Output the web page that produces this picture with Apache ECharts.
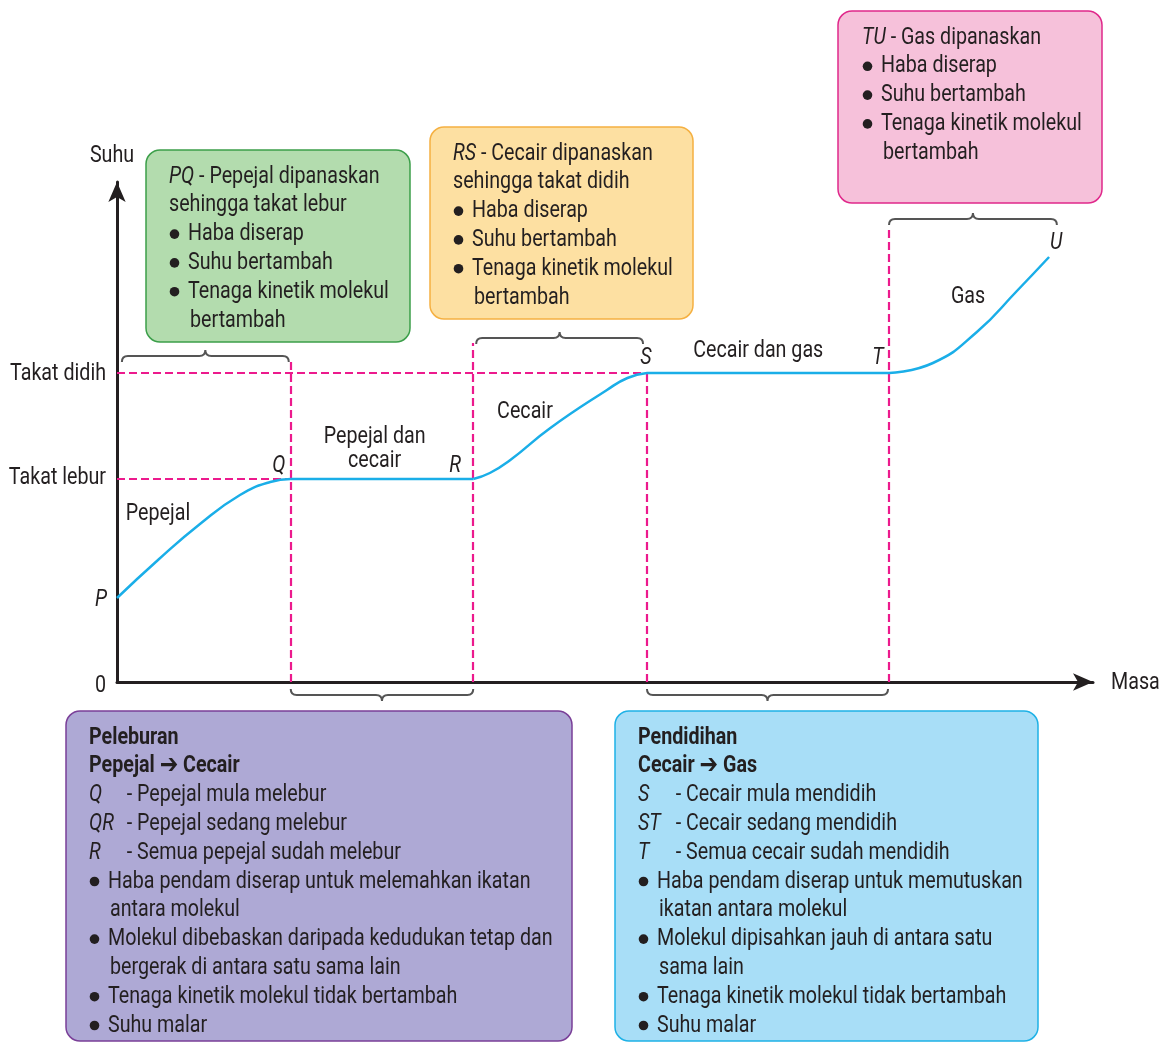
<!DOCTYPE html>
<html>
<head>
<meta charset="utf-8">
<script src="https://cdn.jsdelivr.net/npm/echarts@6/dist/echarts.min.js"></script>
<style>
html, body { margin: 0; padding: 0; background: #fff; }
#main { width: 1167px; height: 1042px; }
</style>
</head>
<body>
<div id="main"></div>
<script>
// lengkung pemanasan: masa (0-100) lawan suhu (0-100)
var masa = [0, 4.2, 8.5, 12.6, 15.7, 17.8, 36.5, 38.2, 40.3, 44.4, 50.2, 52.3, 54.3, 79.1, 83.6, 88.1, 92.2, 95.5];
var suhu = [16.8, 24.4, 31.6, 37.4, 40.0, 40.6, 40.6, 41.8, 44.4, 50.8, 58.4, 60.8, 61.8, 61.8, 63.8, 70.0, 78.2, 85.0];
// indeks titik P, Q, R, S, T, U dalam tatasusunan di atas
var titikIndeks = [0, 5, 6, 12, 13, 17];
var titikNama = ["P", "Q", "R", "S", "T", "U"];

var takatLebur = 40.6;
var takatDidih = 61.8;

var kawasanNama = ["Pepejal", "Pepejal dan\ncecair", "Cecair", "Cecair dan gas", "Gas"];
var kawasanMasa = [4.2, 26.4, 41.8, 65.7, 87.2];
var kawasanSuhu = [33.8, 46.8, 54.2, 66.4, 77.2];

var labelPaksiY = ["0", "Takat lebur", "Takat didih"];
var nilaiPaksiY = [0, 41.0, 61.8];

// kurungan: masa mula, masa akhir, suhu, arah (-1 hujung ke atas, 1 ke bawah)
var kurunganMula = [0.5, 36.8, 79.1, 17.8, 54.3];
var kurunganAkhir = [17.6, 53.9, 96.3, 36.5, 79.0];
var kurunganSuhu = [65.2, 68.8, 92.6, -2.6, -2.6];
var kurunganArah = [-1, -1, -1, 1, 1];

var F = "Roboto, 'Noto Sans', sans-serif";
var TXT = "#231f20";
var FS = 24;
var SX = 0.82; // huruf dimampatkan (condensed)

var chartDom = document.getElementById("main");
var myChart = echarts.init(chartDom);

var titikMasa = titikIndeks.map(function (i) { return masa[i]; });
var titikSuhu = titikIndeks.map(function (i) { return suhu[i]; });
var titikOffset = [[-16, 1], [-12, -14], [-18, -14], [-1, -16], [-11, -16], [7, -15]];

function teksSeries(name, xs, ys, texts, offsets, extra, aligns) {
    return {
        name: name,
        type: "custom",
        silent: true,
        z: 6,
        data: texts.map(function (t, i) { return [xs[i], ys[i], i]; }),
        renderItem: function (params, api) {
            var i = params.dataIndex;
            var p = api.coord([api.value(0), api.value(1)]);
            var off = offsets ? offsets[i] : [0, 0];
            return {
                type: "text",
                x: p[0] + off[0],
                y: p[1] + off[1] + 1,
                scaleX: SX,
                style: Object.assign({
                    text: texts[i],
                    fontFamily: F,
                    fontSize: FS,
                    fill: TXT,
                    align: aligns ? aligns[i] : "center",
                    verticalAlign: "middle",
                    lineHeight: 24,
                }, extra || {}),
            };
        },
    };
}

// segmen lengkung: PQ, QR, RS, ST, TU
var segmen = [];
for (var s = 0; s < titikIndeks.length - 1; s++) {
    var a = titikIndeks[s], b = titikIndeks[s + 1];
    var pts = [];
    for (var k = a; k <= b; k++) pts.push([masa[k], suhu[k]]);
    segmen.push({
        name: "lengkung " + titikNama[s] + titikNama[s + 1],
        type: "line",
        z: 5,
        smooth: 0.5,
        symbol: "none",
        silent: true,
        lineStyle: { color: "#1aaee8", width: 2.5 },
        data: pts,
    });
}

var option = {
    animation: false,
    backgroundColor: "#fff",
    grid: { left: 117, right: 74, top: 182, bottom: 360, containLabel: false },
    xAxis: {
        type: "value",
        min: 0,
        max: 100,
        axisLine: { lineStyle: { color: TXT, width: 3 }, symbol: ["none", "arrow"], symbolSize: [13, 20] },
        axisTick: { show: false },
        axisLabel: { show: false },
        splitLine: { show: false },
    },
    yAxis: {
        type: "value",
        min: 0,
        max: 100,
        axisLine: { lineStyle: { color: TXT, width: 3 }, symbol: ["none", "arrow"], symbolSize: [13, 20] },
        axisTick: { show: false },
        axisLabel: { show: false },
        splitLine: { show: false },
    },
    series: [
        {
            name: "garis putus",
            type: "line",
            data: [],
            silent: true,
            markLine: {
                silent: true,
                symbol: "none",
                label: { show: false },
                lineStyle: { color: "#ec1a8d", width: 2.2, type: [8, 4] },
                data: [
                    [{ coord: [0, takatLebur] }, { coord: [titikMasa[1], takatLebur] }],
                    [{ coord: [0, takatDidih] }, { coord: [titikMasa[3], takatDidih] }],
                    [{ coord: [titikMasa[1], 0] }, { coord: [titikMasa[1], 64.0] }],
                    [{ coord: [titikMasa[2], 0] }, { coord: [titikMasa[2], 67.8] }],
                    [{ coord: [titikMasa[3], 0] }, { coord: [titikMasa[3], takatDidih] }],
                    [{ coord: [titikMasa[4], 0] }, { coord: [titikMasa[4], 90.5] }],
                ],
            },
        },
    ].concat(segmen, [
        teksSeries("titik", titikMasa, titikSuhu, titikNama, titikOffset, { fontStyle: "italic" }),
        teksSeries("kawasan", kawasanMasa, kawasanSuhu, kawasanNama, null),
        teksSeries("paksi y", [0, 0, 0], nilaiPaksiY, labelPaksiY, [[-11, 3], [-11, 0], [-11, 0]], null, ["right", "right", "right"]),
        teksSeries("nama paksi", [0, 100], [100, 0], ["Suhu", "Masa"], [[-5, -27], [18, 0]], null, ["center", "left"]),
        {
            name: "kurungan",
            type: "custom",
            silent: true,
            z: 6,
            data: kurunganMula.map(function (x, i) { return [x, kurunganSuhu[i], kurunganAkhir[i], kurunganArah[i]]; }),
            renderItem: function (params, api) {
                var p1 = api.coord([api.value(0), api.value(1)]);
                var p2 = api.coord([api.value(2), api.value(1)]);
                var x1 = p1[0], x2 = p2[0], y = p1[1], sg = api.value(3), h = 6;
                var xm = (x1 + x2) / 2;
                var d = "M" + x1 + "," + (y - sg * h) +
                    " Q" + x1 + "," + y + " " + (x1 + h) + "," + y +
                    " L" + (xm - h) + "," + y +
                    " Q" + xm + "," + y + " " + xm + "," + (y + sg * h) +
                    " Q" + xm + "," + y + " " + (xm + h) + "," + y +
                    " L" + (x2 - h) + "," + y +
                    " Q" + x2 + "," + y + " " + x2 + "," + (y - sg * h);
                return {
                    type: "path",
                    shape: { pathData: d },
                    style: { fill: "none", stroke: "#555", lineWidth: 2 },
                };
            },
        },
    ]),
};
myChart.setOption(option);

// ---- kotak penerangan ----
var richGaya = {
    i: { fontFamily: F, fontSize: FS, fontStyle: "italic", fill: TXT },
    k: { fontFamily: F, fontSize: FS, fontStyle: "italic", fill: TXT, width: 46 },
    n: { fontFamily: F, fontSize: FS, fill: TXT },
    b: { fontFamily: F, fontSize: FS, fontWeight: "bold", fill: TXT },
    ar: { fontFamily: "'DejaVu Sans', sans-serif", fontSize: 27, fontWeight: "bold", fill: TXT },
};

// [teks, inden, berbulet]
var kotak = [
    {
        x: 146, y: 150, w: 264, h: 192, fill: "#b3dcae", stroke: "#3c9f4a", tx: 169, ty: 175,
        lines: [
            ["{i|PQ} - Pepejal dipanaskan", 0, 0],
            ["sehingga takat lebur", 0, 0],
            ["Haba diserap", 19, 1],
            ["Suhu bertambah", 19, 1],
            ["Tenaga kinetik molekul", 19, 1],
            ["bertambah", 21, 0],
        ],
    },
    {
        x: 430, y: 127, w: 263, h: 192, fill: "#fde0a2", stroke: "#f5b041", tx: 453, ty: 152,
        lines: [
            ["{i|RS} - Cecair dipanaskan", 0, 0],
            ["sehingga takat didih", 0, 0],
            ["Haba diserap", 19, 1],
            ["Suhu bertambah", 19, 1],
            ["Tenaga kinetik molekul", 19, 1],
            ["bertambah", 21, 0],
        ],
    },
    {
        x: 838, y: 11, w: 264, h: 192, fill: "#f6c1da", stroke: "#e0288b", tx: 862, ty: 36,
        lines: [
            ["{i|TU} - Gas dipanaskan", 0, 0],
            ["Haba diserap", 19, 1],
            ["Suhu bertambah", 19, 1],
            ["Tenaga kinetik molekul", 19, 1],
            ["bertambah", 21, 0],
        ],
    },
    {
        x: 66, y: 711, w: 506, h: 330, fill: "#aea9d5", stroke: "#7a3f98", tx: 89, ty: 736,
        lines: [
            ["{b|Peleburan}", 0, 0],
            ["{b|Pepejal }{ar|➔}{b| Cecair}", 0, 0],
            ["{k|Q}{n|- Pepejal mula melebur}", 0, 0],
            ["{k|QR}{n|- Pepejal sedang melebur}", 0, 0],
            ["{k|R}{n|- Semua pepejal sudah melebur}", 0, 0],
            ["Haba pendam diserap untuk melemahkan ikatan", 19, 1],
            ["antara molekul", 21, 0],
            ["Molekul dibebaskan daripada kedudukan tetap dan", 19, 1],
            ["bergerak di antara satu sama lain", 21, 0],
            ["Tenaga kinetik molekul tidak bertambah", 19, 1],
            ["Suhu malar", 19, 1],
        ],
    },
    {
        x: 615, y: 711, w: 423, h: 330, fill: "#a8def7", stroke: "#1eb1e6", tx: 638, ty: 736,
        lines: [
            ["{b|Pendidihan}", 0, 0],
            ["{b|Cecair }{ar|➔}{b| Gas}", 0, 0],
            ["{k|S}{n|- Cecair mula mendidih}", 0, 0],
            ["{k|ST}{n|- Cecair sedang mendidih}", 0, 0],
            ["{k|T}{n|- Semua cecair sudah mendidih}", 0, 0],
            ["Haba pendam diserap untuk memutuskan", 19, 1],
            ["ikatan antara molekul", 21, 0],
            ["Molekul dipisahkan jauh di antara satu", 19, 1],
            ["sama lain", 21, 0],
            ["Tenaga kinetik molekul tidak bertambah", 19, 1],
            ["Suhu malar", 19, 1],
        ],
    },
];

var graphics = [];
kotak.forEach(function (k) {
    graphics.push({
        type: "rect",
        shape: { x: k.x, y: k.y, width: k.w, height: k.h, r: 14 },
        style: { fill: k.fill, stroke: k.stroke, lineWidth: 1.5 },
        z: 10,
    });
    k.lines.forEach(function (ln, i) {
        var y = k.ty + i * 28.8 + 1.5;
        if (ln[2]) {
            graphics.push({
                type: "circle",
                shape: { cx: k.tx + 5.5, cy: y, r: 4.8 },
                style: { fill: TXT },
                z: 11,
            });
        }
        graphics.push({
            type: "text",
            x: k.tx + ln[1],
            y: y,
            scaleX: SX,
            z: 11,
            style: {
                text: ln[0],
                rich: richGaya,
                fontFamily: F,
                fontSize: FS,
                fill: TXT,
                verticalAlign: "middle",
            },
        });
    });
});

myChart.setOption({ graphic: graphics });
</script>
</body>
</html>
